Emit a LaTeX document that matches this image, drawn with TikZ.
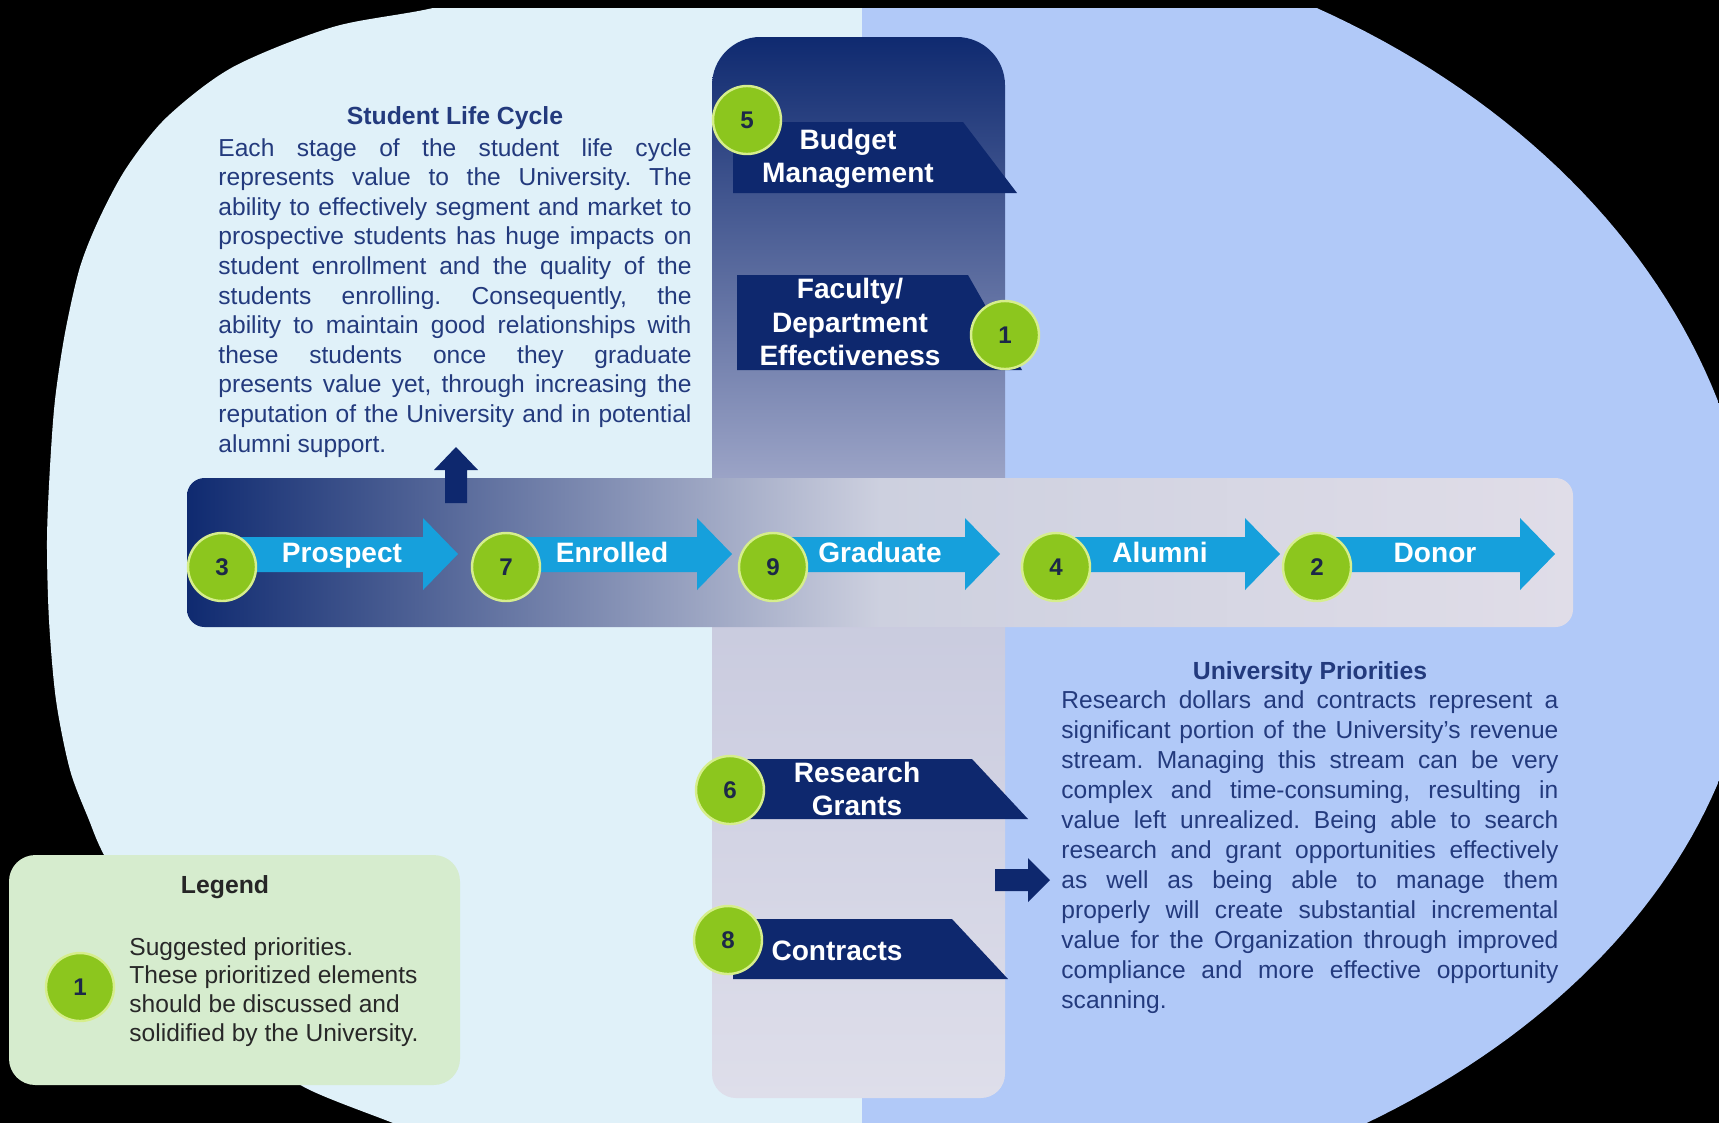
\documentclass[tikz,border=0pt]{standalone}
\usepackage{fontspec}
\setmainfont{Liberation Sans}
\definecolor{clight}{RGB}{224,241,249}
\definecolor{cperi}{RGB}{177,201,248}
\definecolor{cnavy}{RGB}{14,40,110}
\definecolor{cnavytop}{RGB}{15,42,112}
\definecolor{ccolup}{RGB}{194,197,222}
\definecolor{ccollowtop}{RGB}{198,200,221}
\definecolor{ccolbot}{RGB}{222,222,234}
\definecolor{cbarmid}{RGB}{205,208,223}
\definecolor{cbarright}{RGB}{224,221,232}
\definecolor{ccyan}{RGB}{22,160,220}
\definecolor{cgreen}{RGB}{140,198,30}
\definecolor{cring}{RGB}{214,238,140}
\definecolor{cnum}{RGB}{28,40,72}
\definecolor{ctxt}{RGB}{35,58,125}
\definecolor{clegend}{RGB}{214,236,206}
\definecolor{clegtxt}{RGB}{40,40,40}
\begin{document}
\begin{tikzpicture}[x=0.456pt,y=-0.456pt,
  num/.style={circle, fill=cgreen, draw=cring, line width=1.1pt, minimum size=31pt, inner sep=0pt,
    font=\fontsize{11}{11}\selectfont\bfseries, text=cnum},
  stagelbl/.style={font=\fontsize{12.8}{15}\selectfont\bfseries, text=white, inner sep=0pt, anchor=base},
  tablbl/.style={font=\fontsize{12.8}{15.3}\selectfont\bfseries, text=white, align=center, inner sep=0pt},
  tabshape/.style={fill=cnavy},
  flow/.style={fill=ccyan},
  bigarrow/.style={fill=cnavy},
  para/.style={inner sep=0pt, anchor=base west, text=ctxt},
  ptitle/.style={inner sep=0pt, anchor=base, font=\fontsize{11.3}{13.5}\selectfont\bfseries, text=ctxt}
]
\useasboundingbox (0,0) rectangle (1719,1123);
% background
\fill[black] (0,0) rectangle (1719,1123);
\begin{scope}
  \clip (8,8) rectangle (1719,1123);
  \clip plot[smooth] coordinates {(560,-25) (433,8) (333,27) (233,67) (167,117) (127,167) (100,217) (80,267) (65,333) (55,400) (50,467) (47,540) (49,620) (56,700) (70,770) (89,820) (103,853) (140,920) (195,990) (250,1045) (304,1087) (393,1123) (460,1150)}
    -- plot[domain=60:0, samples=50] ({876+880*cos(\x)},{600+630*sin(\x)})
    -- plot[domain=0:-64, samples=50] ({876+880*cos(\x)},{600+684*sin(\x)}) -- cycle;
  \fill[clight] (0,0) rectangle (862,1123);
  \fill[cperi] (862,0) rectangle (1719,1123);
\end{scope}
% vertical column (upper and lower parts, joined behind the bar)
\shade[top color=cnavytop, bottom color=ccolup, rounded corners=22pt]
  (712,37) rectangle (1005,600);
\shade[top color=ccollowtop, bottom color=ccolbot, rounded corners=11pt]
  (712,540) rectangle (1005,1098);
% horizontal bar
\shade[left color=cnavytop, right color=cbarright, middle color=cbarmid, rounded corners=8pt]
  (187,478) rectangle (1573,627);
% up arrow
\fill[bigarrow] (445,503) -- (445,470) -- (434,470) -- (456,447) -- (478,470) -- (467,470) -- (467,503) -- cycle;
% stage arrows
\fill[flow] (222,537) -- (423,537) -- (423,518) -- (458,554) -- (423,590) -- (423,572) -- (222,572) -- cycle;
\fill[flow] (506,537) -- (697,537) -- (697,518) -- (732,554) -- (697,590) -- (697,572) -- (506,572) -- cycle;
\fill[flow] (773,537) -- (965,537) -- (965,518) -- (1000,554) -- (965,590) -- (965,572) -- (773,572) -- cycle;
\fill[flow] (1056,537) -- (1245,537) -- (1245,518) -- (1280,554) -- (1245,590) -- (1245,572) -- (1056,572) -- cycle;
\fill[flow] (1317,537) -- (1520,537) -- (1520,518) -- (1555,554) -- (1520,590) -- (1520,572) -- (1317,572) -- cycle;
\node[stagelbl] (lProspect) at (342,562) {Prospect};
\node[stagelbl] (lEnrolled) at (612,562) {Enrolled};
\node[stagelbl] (lGraduate) at (880,562) {Graduate};
\node[stagelbl] (lAlumni) at (1160,562) {Alumni};
\node[stagelbl] (lDonor) at (1435,562) {Donor};
\node[num] (c3) at (222,567) {3};
\node[num] (c7) at (506,567) {7};
\node[num] (c9) at (773,567) {9};
\node[num] (c4) at (1056,567) {4};
\node[num] (c2) at (1317,567) {2};
% tabs
\fill[tabshape] (733,122) -- (963,122) -- (1017,193) -- (733,193) -- cycle;
\fill[tabshape] (737,275) -- (968,275) -- (1022,370) -- (737,370) -- cycle;
\fill[tabshape] (735,759) -- (972,759) -- (1028,819) -- (735,819) -- cycle;
\fill[tabshape] (733,919) -- (952,919) -- (1008,979) -- (733,979) -- cycle;
\node[tablbl] (lBudget) at (848,159) {Budget\\Management};
\node[tablbl] (lFaculty) at (850,322) {Faculty/\\Department\\Effectiveness};
\node[tablbl] (lResearch) at (857,789) {Research\\Grants};
\node[tablbl] (lContracts) at (837,951) {Contracts};
\node[num] (c5) at (747,120) {5};
\node[num] (c1) at (1005,335) {1};
\node[num] (c6) at (730,790) {6};
\node[num] (c8) at (728,940) {8};
% right arrow
\fill[bigarrow] (995,869) -- (1028,869) -- (1028,858) -- (1050,880) -- (1028,902) -- (1028,891) -- (995,891) -- cycle;
% texts
\node[ptitle] (tSLC) at (455,124) {Student Life Cycle};
\node[para] (pSLC) at (218,156) {\parbox[t]{215.7pt}{\fontsize{11.2}{13.5}\selectfont\frenchspacing\hyphenpenalty=10000
Each stage of the student life cycle\linebreak
represents value to the University. The\linebreak
ability to effectively segment and market to\linebreak
prospective students has huge impacts on\linebreak
student enrollment and the quality of the\linebreak
students enrolling. Consequently, the\linebreak
ability to maintain good relationships with\linebreak
these students once they graduate\linebreak
presents value yet, through increasing the\linebreak
reputation of the University and in potential\linebreak
alumni support.}};
\node[ptitle] (tUP) at (1310,679) {University Priorities};
\node[para] (pUP) at (1061,708) {\parbox[t]{226.6pt}{\fontsize{11.2}{13.7}\selectfont\frenchspacing\hyphenpenalty=10000
Research dollars and contracts represent a\linebreak
significant portion of the University's revenue\linebreak
stream. Managing this stream can be very\linebreak
complex and time-consuming, resulting in\linebreak
value left unrealized. Being able to search\linebreak
research and grant opportunities effectively\linebreak
as well as being able to manage them\linebreak
properly will create substantial incremental\linebreak
value for the Organization through improved\linebreak
compliance and more effective opportunity\linebreak
scanning.}};
% legend
\fill[clegend, rounded corners=12pt] (9,855) rectangle (460,1085);
\node[inner sep=0pt, anchor=base, font=\fontsize{11.3}{13.5}\selectfont\bfseries, text=black!85] (tLegend) at (225,893) {Legend};
\node[num] (cL) at (80,987) {1};
\node[inner sep=0pt, anchor=base west, text=clegtxt] (pLegend) at (129,955) {\parbox[t]{170pt}{\fontsize{11.2}{13.2}\selectfont\raggedright
Suggested priorities.\\
These prioritized elements\\
should be discussed and\\
solidified by the University.}};
\end{tikzpicture}
\end{document}
